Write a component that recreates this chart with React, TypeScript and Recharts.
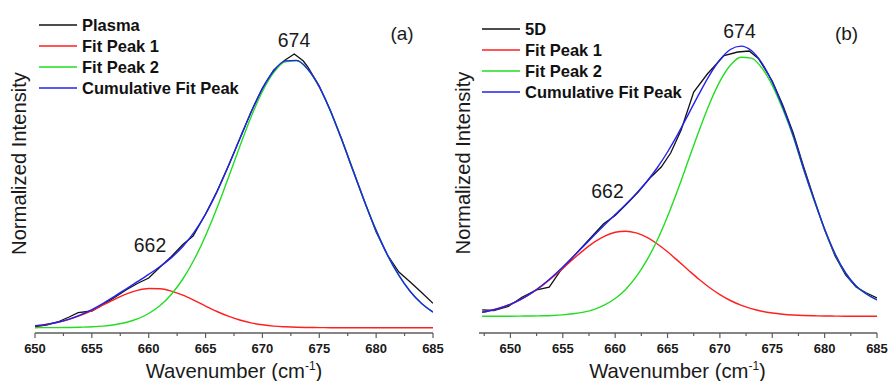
import React from 'react';
import { LineChart, Line, XAxis, YAxis } from 'recharts';

// ---------- Panel (a) : Plasma ----------
const wavenumberA = [650, 651, 652, 653, 654, 655, 656, 657, 658, 659, 660, 661, 662, 663, 664, 665, 666, 667, 668, 669, 670, 671, 672, 673, 674, 675, 676, 677, 678, 679, 680, 681, 682, 683, 684, 685];
const fitPeak1A = [7.1, 8.5, 10.6, 13.7, 17.6, 22.5, 28.1, 33.7, 38.8, 42.6, 44.5, 44.3, 41.9, 37.8, 32.6, 26.9, 21.5, 16.8, 13.0, 10.1, 8.2, 6.9, 6.2, 5.7, 5.5, 5.4, 5.3, 5.3, 5.3, 5.3, 5.3, 5.3, 5.3, 5.3, 5.3, 5.3];
const fitPeak2A = [5.3, 5.4, 5.4, 5.5, 5.8, 6.2, 6.9, 8.3, 10.5, 14.1, 19.5, 27.5, 38.8, 54.0, 73.5, 97.3, 124.9, 155.2, 186.3, 216.0, 241.5, 260.6, 271.2, 272.2, 263.5, 246.0, 221.5, 192.4, 161.4, 130.8, 102.6, 77.9, 57.6, 41.5, 29.5, 20.9];
const cumulativeA = [7.2, 8.6, 10.7, 13.9, 18.1, 23.4, 29.7, 36.7, 44.0, 51.3, 58.7, 66.5, 75.4, 86.5, 100.8, 118.9, 141.1, 166.7, 194.0, 220.8, 244.4, 262.2, 272.1, 272.6, 263.7, 246.1, 221.5, 192.4, 161.4, 130.8, 102.6, 77.9, 57.6, 41.5, 29.5, 20.9];
const plasmaX = [650, 651, 652, 653, 653.8, 655, 656, 657, 658, 659, 660, 661, 662, 663, 663.9, 665, 666, 667, 668, 669, 670, 671, 672, 672.8, 673.6, 674, 675, 676, 677, 678, 679, 680, 681, 682, 683, 684, 685];
const plasmaY = [6.5, 8.0, 11.0, 16.0, 20.3, 22.0, 28.5, 35.5, 43.0, 49.5, 55.0, 66.0, 76.5, 88.5, 97.0, 119.0, 141.5, 167.0, 194.0, 221.0, 245.0, 263.0, 273.0, 279.0, 272.0, 266.0, 247.0, 222.0, 193.0, 162.0, 131.0, 101.0, 78.0, 61.0, 51.0, 40.5, 29.7];
const ticksA = [650, 652.5, 655, 657.5, 660, 662.5, 665, 667.5, 670, 672.5, 675, 677.5, 680, 682.5, 685];

// ---------- Panel (b) : 5D ----------
const wavenumberB = [647.3, 648, 649, 650, 651, 652, 653, 654, 655, 656, 657, 658, 659, 660, 661, 662, 663, 664, 665, 666, 667, 668, 669, 670, 671, 672, 673, 674, 675, 676, 677, 678, 679, 680, 681, 682, 683, 684, 685];
const fitPeak1B = [20.8, 22.2, 25.0, 28.7, 33.6, 39.8, 47.1, 55.5, 64.6, 74.0, 82.9, 90.8, 96.9, 100.7, 101.8, 100.1, 95.8, 89.3, 81.2, 72.1, 62.8, 53.7, 45.5, 38.4, 32.5, 27.9, 24.4, 21.8, 20.0, 18.8, 18.0, 17.5, 17.2, 17.0, 16.9, 16.8, 16.8, 16.8, 16.8];
const fitPeak2B = [16.8, 16.8, 16.8, 16.8, 16.9, 17.0, 17.2, 17.5, 18.1, 19.2, 20.9, 23.7, 28.1, 34.5, 43.6, 56.1, 72.3, 92.5, 116.6, 143.8, 172.9, 202.0, 229.0, 251.6, 267.8, 275.8, 274.9, 265.1, 247.6, 223.9, 196.3, 163.3, 132.6, 103.8, 78.9, 60.0, 47.0, 39.0, 33.0];
const cumulativeB = [20.8, 22.2, 25.0, 28.8, 33.7, 39.9, 47.5, 56.2, 65.9, 76.4, 87.0, 97.7, 108.2, 118.4, 128.6, 139.4, 151.3, 165.0, 181.0, 199.1, 218.9, 238.9, 257.7, 273.2, 283.5, 286.9, 282.5, 270.1, 250.8, 225.9, 197.5, 164.0, 133.0, 104.0, 79.0, 60.0, 47.0, 39.0, 33.0];
const sample5DX = [647.3, 648.4, 649.8, 651.1, 652.5, 653.7, 654.8, 656.7, 658.9, 660.0, 661.1, 662.2, 663.4, 664.4, 665.3, 666.3, 667.5, 668.8, 670.4, 671.7, 672.8, 673.7, 675, 676, 677, 678, 679, 680, 681, 682, 683, 684, 685];
const sample5DY = [23.2, 22.5, 26.5, 35.8, 43.2, 45.8, 62.5, 84.2, 109.2, 117.5, 129.0, 141.0, 155.8, 166.0, 180.0, 203.0, 241.0, 259.0, 277.5, 281.0, 282.0, 274.2, 252.0, 228.0, 200.0, 166.0, 134.0, 103.0, 77.0, 58.0, 46.0, 40.0, 35.0];
const ticksB = [647.5, 650, 652.5, 655, 657.5, 660, 662.5, 665, 667.5, 670, 672.5, 675, 677.5, 680, 682.5, 685];

const legendLabelsA = ['Plasma', 'Fit Peak 1', 'Fit Peak 2', 'Cumulative Fit Peak'];
const legendLabelsB = ['5D', 'Fit Peak 1', 'Fit Peak 2', 'Cumulative Fit Peak'];

const COLORS = ['#111111', '#ff1f1f', '#22dd22', '#2222ee'];
const FRAME = '#5c5c5c';
const FONT = '"Liberation Sans", Arial, Helvetica, sans-serif';

const fitRows = (xs: number[], p1: number[], p2: number[], cum: number[]) =>
  xs.map((x, i) => ({ x, p1: p1[i], p2: p2[i], cum: cum[i] }));
const sampleRows = (xs: number[], ys: number[]) => xs.map((x, i) => ({ x, y: ys[i] }));

const rowsA = fitRows(wavenumberA, fitPeak1A, fitPeak2A, cumulativeA);
const rowsB = fitRows(wavenumberB, fitPeak1B, fitPeak2B, cumulativeB);
const plasmaRows = sampleRows(plasmaX, plasmaY);
const sample5DRows = sampleRows(sample5DX, sample5DY);

const Tick = (props: any) => {
  const { x, y, payload } = props;
  const v = payload.value as number;
  const major = Math.abs(v % 5) < 1e-6;
  return (
    <g>
      <line x1={x} x2={x} y1={y} y2={y + (major ? 5 : 3)} stroke={FRAME} strokeWidth={1.2} />
      {major && (
        <text x={x} y={y + 19.5} textAnchor="middle" fontSize={13} fontWeight="bold" fontFamily={FONT} fill="#1a1a1a">
          {v}
        </text>
      )}
    </g>
  );
};

const Panel = ({ rows, samples, domain, ticks, marginLeft, marginRight }: any) => (
  <LineChart
    width={marginLeft + marginRight + 398}
    height={381}
    data={rows}
    margin={{ top: 13, right: marginRight, bottom: 0, left: marginLeft }}
  >
    <XAxis
      dataKey="x"
      type="number"
      domain={domain}
      ticks={ticks}
      interval={0}
      allowDataOverflow
      height={48}
      tickLine={false}
      tickSize={0}
      tickMargin={0}
      tick={<Tick />}
      axisLine={{ stroke: FRAME, strokeWidth: 1.5 }}
    />
    <XAxis xAxisId="top" orientation="top" type="number" domain={domain} height={0} tick={false} tickLine={false} axisLine={{ stroke: FRAME, strokeWidth: 1.5 }} />
    <YAxis type="number" domain={[0, 320]} width={0} tick={false} tickLine={false} axisLine={{ stroke: FRAME, strokeWidth: 1.5 }} allowDataOverflow />
    <YAxis yAxisId="right" orientation="right" type="number" domain={[0, 320]} width={0} tick={false} tickLine={false} axisLine={{ stroke: FRAME, strokeWidth: 1.5 }} />
    <Line data={samples} dataKey="y" type="linear" stroke={COLORS[0]} strokeWidth={1.3} dot={false} activeDot={false} isAnimationActive={false} />
    <Line dataKey="p1" type="monotone" stroke={COLORS[1]} strokeWidth={1.4} dot={false} activeDot={false} isAnimationActive={false} />
    <Line dataKey="p2" type="monotone" stroke={COLORS[2]} strokeWidth={1.4} dot={false} activeDot={false} isAnimationActive={false} />
    <Line dataKey="cum" type="monotone" stroke={COLORS[3]} strokeWidth={1.4} dot={false} activeDot={false} isAnimationActive={false} />
  </LineChart>
);

const LegendBlock = ({ x, y, labels }: { x: number; y: number; labels: string[] }) => (
  <g>
    {labels.map((label, i) => (
      <g key={label + i}>
        <line x1={x} x2={x + 38} y1={y + i * 21} y2={y + i * 21} stroke={COLORS[i]} strokeWidth={1.4} />
        <text x={x + 43} y={y + i * 21 + 6} fontSize={16.5} fontWeight="bold" fontFamily={FONT} fill="#111">
          {label}
        </text>
      </g>
    ))}
  </g>
);

const XLabel = ({ cx }: { cx: number }) => (
  <text x={cx} y={377.5} textAnchor="middle" fontSize={20.3} fontFamily={FONT} fill="#1a1a1a">
    Wavenumber (cm<tspan fontSize={12} dy={-8}>-1</tspan>
    <tspan dy={8}>)</tspan>
  </text>
);

const YLabel = ({ x, cy }: { x: number; cy: number }) => (
  <text x={x} y={cy} transform={`rotate(-90 ${x} ${cy})`} textAnchor="middle" fontSize={20.2} fontFamily={FONT} fill="#1a1a1a">
    Normalized Intensity
  </text>
);

const Note = ({ x, y, text, size = 19.4 }: { x: number; y: number; text: string; size?: number }) => (
  <text x={x} y={y} textAnchor="middle" fontSize={size} fontFamily={FONT} fill="#1a1a1a">
    {text}
  </text>
);

export default function App() {
  return (
    <div style={{ position: 'absolute', left: 0, top: 0, width: 889, height: 381, background: '#fff', overflow: 'hidden' }}>
      <div style={{ position: 'absolute', left: 0, top: 0 }}>
        <Panel rows={rowsA} samples={plasmaRows} domain={[650, 685]} ticks={ticksA} marginLeft={35} marginRight={12} />
      </div>
      <div style={{ position: 'absolute', left: 445, top: 0 }}>
        <Panel rows={rowsB} samples={sample5DRows} domain={[647, 685]} ticks={ticksB} marginLeft={34} marginRight={13} />
      </div>
      <svg width={889} height={381} style={{ position: 'absolute', left: 0, top: 0, pointerEvents: 'none' }}>
        <LegendBlock x={39} y={25} labels={legendLabelsA} />
        <LegendBlock x={482} y={29} labels={legendLabelsB} />
        <XLabel cx={234} />
        <XLabel cx={677.5} />
        <YLabel x={26} cy={163.5} />
        <YLabel x={469.5} cy={163} />
        <Note x={294} y={47} text="674" />
        <Note x={402} y={39.5} text="(a)" size={19} />
        <Note x={150} y={251.5} text="662" />
        <Note x={739.5} y={38} text="674" />
        <Note x={846.5} y={39.5} text="(b)" size={19} />
        <Note x={607.5} y={198} text="662" />
      </svg>
    </div>
  );
}
